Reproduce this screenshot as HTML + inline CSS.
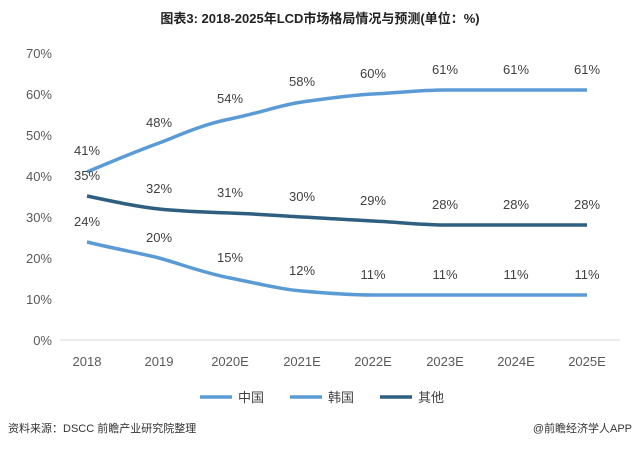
<!DOCTYPE html>
<html><head><meta charset="utf-8"><style>
body{margin:0;background:#fff;}
svg text{font-family:"Liberation Sans","Noto Sans CJK SC",sans-serif;}
</style></head><body>
<svg width="640" height="447" viewBox="0 0 640 447" xmlns="http://www.w3.org/2000/svg">
<rect width="640" height="447" fill="#fff"/>
<text x="320" y="23" text-anchor="middle" font-size="13" font-weight="bold" fill="#222">图表3: 2018-2025年LCD市场格局情况与预测(单位：%)</text>
<g font-size="13" fill="#595959" text-anchor="end">
<text x="52" y="58">70%</text><text x="52" y="99">60%</text><text x="52" y="140">50%</text>
<text x="52" y="181">40%</text><text x="52" y="222">30%</text><text x="52" y="263">20%</text>
<text x="52" y="304">10%</text><text x="52" y="345">0%</text>
</g>
<line x1="60" y1="340" x2="620" y2="340" stroke="#d9d9d9"/>
<g font-size="13" fill="#595959" text-anchor="middle">
<text x="87" y="366">2018</text><text x="159" y="366">2019</text><text x="230" y="366">2020E</text>
<text x="302" y="366">2021E</text><text x="373" y="366">2022E</text><text x="445" y="366">2023E</text>
<text x="516" y="366">2024E</text><text x="587" y="366">2025E</text>
</g>
<g fill="none" stroke-width="3.5">
<path d="M87,172 C120,158 140,150 159,143 S200,125 230,119 S280,105 302,102 S350,95 373,94 S420,90 445,90 L587,90" stroke="#5b9bd5"/>
<path d="M87,242 C120,250 140,253 159,258 S200,272 230,278 S280,289 302,291 S350,295 373,295 L587,295" stroke="#5b9bd5"/>
<path d="M87,196 C120,203 140,207 159,209 S200,212 230,213 S280,216 302,217 S350,220 373,221 S420,225 445,225 L587,225" stroke="#2f5f80"/>
</g>
<g font-size="13" fill="#404040" text-anchor="middle">
<text x="87" y="155">41%</text><text x="159" y="127">48%</text><text x="230" y="103">54%</text>
<text x="302" y="86">58%</text><text x="373" y="78">60%</text><text x="445" y="74">61%</text>
<text x="516" y="74">61%</text><text x="587" y="74">61%</text>
<text x="87" y="180">35%</text><text x="159" y="193">32%</text><text x="230" y="197">31%</text>
<text x="302" y="201">30%</text><text x="373" y="205">29%</text><text x="445" y="209">28%</text>
<text x="516" y="209">28%</text><text x="587" y="209">28%</text>
<text x="87" y="226">24%</text><text x="159" y="242">20%</text><text x="230" y="262">15%</text>
<text x="302" y="275">12%</text><text x="373" y="279">11%</text><text x="445" y="279">11%</text>
<text x="516" y="279">11%</text><text x="587" y="279">11%</text>
</g>
<g font-size="13" fill="#404040">
<line x1="200" y1="397" x2="232" y2="397" stroke="#5b9bd5" stroke-width="3.5"/><text x="238" y="402">中国</text>
<line x1="290" y1="397" x2="322" y2="397" stroke="#5b9bd5" stroke-width="3.5"/><text x="328" y="402">韩国</text>
<line x1="380" y1="397" x2="412" y2="397" stroke="#2f5f80" stroke-width="3.5"/><text x="418" y="402">其他</text>
</g>
<text x="8" y="432" font-size="11" fill="#333">资料来源：DSCC 前瞻产业研究院整理</text>
<text x="632" y="432" font-size="11" fill="#333" text-anchor="end">@前瞻经济学人APP</text>
</svg>
</body></html>
